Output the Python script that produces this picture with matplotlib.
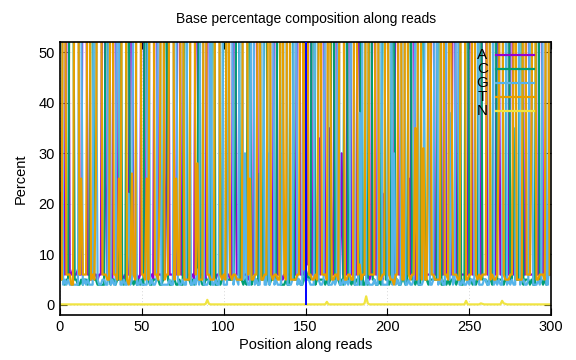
import matplotlib
matplotlib.use("Agg")
import matplotlib.pyplot as plt
import numpy as np

# base composition (%) per read cycle, 0..299
a_pct = [
    22, 6, 7, 6, 85, 84, 6, 6, 7, 6,
    6, 7, 6, 6, 86, 84, 85, 6, 6, 5,
    6, 6, 6, 5, 6, 6, 85, 85, 24, 6,
    6, 6, 5, 85, 86, 6, 5, 6, 6, 5,
    6, 6, 6, 85, 63, 6, 6, 6, 5, 6,
    85, 86, 6, 6, 6, 6, 6, 5, 85, 84,
    6, 6, 6, 5, 6, 26, 85, 6, 6, 6,
    6, 6, 85, 85, 6, 6, 6, 5, 6, 6,
    6, 6, 5, 85, 60, 6, 6, 6, 6, 5,
    85, 84, 6, 6, 6, 5, 6, 6, 6, 6,
    6, 6, 6, 6, 5, 6, 85, 66, 6, 6,
    6, 6, 6, 6, 6, 5, 6, 6, 6, 85,
    84, 6, 6, 6, 6, 5, 6, 6, 6, 5,
    6, 85, 84, 6, 6, 6, 5, 6, 6, 6,
    6, 6, 6, 6, 6, 85, 84, 6, 6, 6,
    9, 8, 84, 85, 6, 6, 6, 6, 33, 6,
    85, 84, 6, 6, 6, 35, 6, 6, 85, 84,
    6, 6, 30, 6, 6, 6, 85, 84, 6, 6,
    6, 6, 85, 50, 6, 6, 6, 6, 6, 5,
    6, 85, 84, 6, 6, 6, 6, 5, 22, 6,
    6, 6, 6, 6, 6, 85, 84, 6, 6, 6,
    6, 6, 6, 25, 6, 85, 84, 5, 6, 6,
    6, 6, 6, 6, 6, 6, 6, 85, 84, 6,
    6, 6, 6, 6, 6, 85, 6, 6, 6, 6,
    85, 84, 6, 6, 6, 6, 6, 6, 6, 6,
    85, 84, 6, 6, 6, 6, 6, 6, 85, 84,
    84, 6, 6, 6, 6, 6, 6, 85, 54, 6,
    6, 6, 6, 6, 6, 85, 84, 6, 6, 6,
    6, 6, 6, 6, 6, 85, 84, 6, 6, 6,
    6, 6, 6, 85, 84, 6, 6, 6, 6, 6,
]
c_pct = [
    6, 5, 5, 4, 5, 5, 84, 86, 85, 5,
    5, 4, 4, 5, 4, 5, 5, 4, 5, 86,
    84, 5, 5, 4, 4, 4, 4, 4, 66, 85,
    5, 4, 5, 5, 4, 5, 5, 85, 5, 4,
    5, 85, 68, 5, 5, 4, 5, 4, 5, 4,
    5, 4, 85, 65, 5, 4, 4, 5, 5, 5,
    5, 4, 4, 5, 85, 64, 5, 4, 4, 5,
    5, 4, 4, 5, 4, 4, 85, 86, 5, 5,
    4, 5, 4, 5, 5, 85, 5, 4, 4, 5,
    5, 5, 4, 85, 85, 4, 4, 5, 4, 5,
    84, 85, 5, 5, 5, 5, 5, 22, 84, 85,
    5, 5, 4, 5, 4, 85, 65, 4, 5, 5,
    5, 4, 26, 5, 5, 85, 84, 5, 4, 5,
    5, 5, 5, 85, 85, 4, 4, 4, 5, 4,
    4, 85, 84, 5, 5, 5, 5, 4, 4, 5,
    7, 6, 5, 5, 85, 85, 4, 5, 5, 5,
    5, 5, 4, 5, 4, 5, 85, 84, 5, 5,
    5, 4, 5, 4, 85, 84, 5, 5, 4, 5,
    4, 5, 5, 4, 85, 4, 4, 5, 4, 85,
    84, 5, 5, 4, 4, 5, 4, 85, 68, 5,
    5, 4, 5, 85, 60, 5, 5, 4, 4, 5,
    5, 4, 5, 64, 85, 5, 5, 4, 5, 4,
    4, 85, 58, 5, 5, 4, 5, 5, 5, 5,
    5, 85, 84, 4, 4, 5, 4, 5, 4, 5,
    5, 5, 4, 5, 85, 4, 4, 5, 85, 84,
    5, 5, 4, 5, 4, 5, 84, 85, 5, 5,
    5, 4, 5, 5, 4, 85, 84, 5, 5, 5,
    5, 4, 5, 85, 84, 5, 5, 35, 5, 5,
    5, 85, 84, 4, 5, 5, 5, 4, 5, 4,
    4, 85, 84, 5, 5, 4, 5, 4, 5, 10,
]
g_pct = [
    50, 84, 4, 5, 4, 5, 4, 4, 4, 4,
    4, 4, 84, 64, 4, 5, 4, 5, 4, 4,
    4, 84, 63, 5, 4, 4, 5, 5, 4, 4,
    84, 4, 5, 4, 4, 84, 65, 4, 4, 5,
    4, 4, 22, 4, 5, 84, 84, 4, 4, 5,
    4, 4, 4, 4, 84, 4, 5, 4, 4, 5,
    84, 65, 4, 4, 4, 4, 4, 5, 4, 4,
    84, 65, 5, 4, 4, 5, 4, 4, 84, 84,
    4, 4, 5, 4, 7, 4, 84, 85, 4, 4,
    4, 5, 85, 4, 4, 5, 4, 4, 84, 84,
    4, 4, 4, 28, 84, 84, 4, 6, 5, 4,
    84, 84, 5, 30, 5, 4, 4, 85, 84, 4,
    5, 4, 4, 84, 84, 4, 4, 30, 4, 84,
    84, 4, 5, 4, 4, 4, 27, 84, 84, 4,
    4, 4, 5, 84, 84, 4, 5, 4, 4, 82,
    5, 5, 5, 4, 4, 4, 84, 84, 5, 4,
    4, 5, 84, 84, 4, 4, 4, 5, 4, 5,
    84, 4, 4, 5, 4, 5, 4, 5, 85, 84,
    4, 4, 4, 38, 4, 84, 84, 4, 5, 4,
    4, 4, 5, 4, 4, 84, 85, 4, 4, 4,
    4, 84, 84, 4, 30, 4, 5, 4, 4, 84,
    84, 4, 4, 5, 4, 4, 5, 56, 84, 4,
    4, 4, 5, 84, 84, 36, 4, 4, 5, 84,
    84, 4, 5, 5, 4, 4, 84, 84, 5, 38,
    4, 5, 84, 84, 4, 4, 5, 4, 4, 5,
    4, 5, 5, 4, 84, 84, 4, 4, 4, 5,
    5, 4, 4, 84, 84, 4, 5, 4, 5, 4,
    4, 84, 84, 4, 5, 4, 5, 4, 4, 84,
    84, 4, 5, 5, 4, 4, 5, 84, 52, 4,
    4, 4, 5, 4, 5, 84, 84, 4, 4, 78,
]
t_pct = [
    22, 5, 84, 85, 6, 6, 6, 4, 4, 85,
    85, 85, 6, 25, 6, 6, 6, 85, 85, 5,
    6, 5, 26, 86, 86, 86, 6, 6, 6, 5,
    5, 86, 85, 6, 6, 5, 25, 5, 85, 86,
    85, 5, 4, 6, 26, 6, 5, 86, 86, 85,
    6, 6, 5, 25, 5, 86, 85, 86, 6, 6,
    5, 25, 86, 86, 5, 6, 6, 85, 86, 85,
    5, 25, 6, 6, 86, 85, 5, 5, 5, 5,
    86, 85, 86, 6, 28, 5, 5, 5, 86, 86,
    6, 6, 5, 5, 5, 86, 86, 85, 6, 5,
    6, 5, 85, 61, 6, 5, 6, 6, 5, 5,
    5, 5, 85, 59, 85, 6, 25, 5, 5, 6,
    6, 86, 64, 5, 5, 6, 6, 59, 86, 6,
    5, 6, 6, 5, 5, 86, 64, 6, 5, 86,
    86, 5, 5, 5, 5, 6, 6, 86, 86, 7,
    79, 81, 6, 6, 5, 5, 6, 5, 57, 85,
    6, 6, 6, 5, 86, 56, 5, 5, 6, 6,
    5, 86, 61, 85, 5, 5, 6, 6, 5, 5,
    86, 85, 6, 8, 5, 6, 6, 83, 85, 6,
    6, 6, 6, 86, 86, 5, 5, 6, 6, 85,
    85, 6, 5, 5, 4, 6, 6, 86, 86, 5,
    5, 86, 85, 6, 5, 6, 6, 35, 5, 86,
    86, 5, 31, 5, 5, 54, 85, 6, 6, 5,
    5, 5, 5, 85, 86, 6, 6, 5, 85, 51,
    6, 6, 6, 5, 5, 86, 85, 85, 5, 5,
    6, 6, 85, 85, 6, 5, 6, 5, 6, 6,
    6, 86, 85, 5, 6, 5, 5, 6, 36, 85,
    85, 6, 5, 5, 5, 6, 6, 55, 85, 5,
    5, 5, 5, 85, 85, 6, 6, 6, 37, 86,
    86, 5, 5, 6, 6, 6, 5, 86, 85, 6,
]
n_pct = [
    0.1, 0.1, 0.1, 0.1, 0.1, 0.1, 0.1, 0.1, 0.1, 0.1,
    0.1, 0.1, 0.1, 0.1, 0.1, 0.1, 0.1, 0.1, 0.1, 0.1,
    0.1, 0.1, 0.1, 0.1, 0.1, 0.1, 0.1, 0.1, 0.1, 0.1,
    0.1, 0.1, 0.1, 0.1, 0.1, 0.1, 0.1, 0.1, 0.1, 0.1,
    0.1, 0.1, 0.1, 0.1, 0.1, 0.1, 0.1, 0.1, 0.1, 0.1,
    0.1, 0.1, 0.1, 0.1, 0.1, 0.1, 0.1, 0.1, 0.1, 0.1,
    0.1, 0.1, 0.1, 0.1, 0.1, 0.1, 0.1, 0.1, 0.1, 0.1,
    0.1, 0.1, 0.1, 0.1, 0.1, 0.1, 0.1, 0.1, 0.1, 0.1,
    0.1, 0.1, 0.1, 0.1, 0.1, 0.1, 0.1, 0.1, 0.1, 0.2,
    1.0, 0.2, 0.1, 0.1, 0.1, 0.1, 0.1, 0.1, 0.1, 0.1,
    0.1, 0.1, 0.1, 0.1, 0.1, 0.1, 0.1, 0.1, 0.1, 0.1,
    0.1, 0.1, 0.1, 0.1, 0.1, 0.1, 0.1, 0.1, 0.1, 0.1,
    0.1, 0.1, 0.1, 0.1, 0.1, 0.1, 0.1, 0.1, 0.1, 0.1,
    0.1, 0.1, 0.1, 0.1, 0.1, 0.1, 0.1, 0.1, 0.1, 0.1,
    0.1, 0.1, 0.1, 0.1, 0.1, 0.1, 0.1, 0.1, 0.1, 0.1,
    0.1, 0.1, 0.1, 0.1, 0.1, 0.1, 0.1, 0.1, 0.1, 0.1,
    0.1, 0.1, 0.1, 0.6, 0.1, 0.1, 0.1, 0.1, 0.1, 0.1,
    0.1, 0.1, 0.1, 0.1, 0.1, 0.1, 0.1, 0.1, 0.1, 0.1,
    0.1, 0.1, 0.1, 0.1, 0.1, 0.1, 0.3, 1.7, 0.3, 0.1,
    0.1, 0.1, 0.1, 0.1, 0.1, 0.1, 0.1, 0.1, 0.1, 0.1,
    0.1, 0.1, 0.1, 0.1, 0.1, 0.1, 0.1, 0.1, 0.1, 0.1,
    0.1, 0.1, 0.1, 0.1, 0.1, 0.1, 0.1, 0.1, 0.1, 0.1,
    0.1, 0.1, 0.1, 0.1, 0.1, 0.1, 0.1, 0.1, 0.1, 0.1,
    0.1, 0.1, 0.1, 0.1, 0.1, 0.1, 0.1, 0.1, 0.1, 0.1,
    0.1, 0.1, 0.1, 0.1, 0.1, 0.1, 0.1, 0.1, 0.8, 0.1,
    0.1, 0.1, 0.1, 0.1, 0.1, 0.1, 0.1, 0.3, 0.2, 0.1,
    0.1, 0.1, 0.1, 0.1, 0.1, 0.1, 0.1, 0.1, 0.1, 0.1,
    0.8, 0.3, 0.2, 0.1, 0.1, 0.1, 0.1, 0.1, 0.1, 0.1,
    0.1, 0.1, 0.1, 0.1, 0.1, 0.1, 0.1, 0.1, 0.1, 0.1,
    0.1, 0.1, 0.1, 0.1, 0.1, 0.1, 0.1, 0.1, 0.1, 0.1,
]
read_split = 150  # boundary between read 1 and read 2 cycles

labels = ["A", "C", "G", "T", "N"]
colors = ["#9400d3", "#009e73", "#56b4e9", "#e69f00", "#f0e442"]
series = [a_pct, c_pct, g_pct, t_pct, n_pct]

plt.rcParams["font.family"] = ["Liberation Sans", "DejaVu Sans"]

fig = plt.figure(figsize=(5.76, 3.6), dpi=100)
ax = fig.add_axes([0.104, 0.125, 0.853, 0.758])

cycles = np.arange(len(a_pct))
for vals, col in zip(series, colors):
    ax.plot(cycles, vals, color=col, lw=1.6, zorder=2)

ax.vlines(read_split, 0, 100, color="#0000ff", lw=1.4, zorder=3)

ax.set_xlim(0, 300)
ax.set_ylim(-2, 52)
ax.set_xticks(range(0, 301, 50))
ax.set_yticks(range(0, 51, 10))
ax.grid(True, color="#c8c8c8", ls=(0, (1, 3)), lw=0.6, zorder=0)
ax.tick_params(direction="in", top=True, right=True, length=5, labelsize=10.5)
for s in ax.spines.values():
    s.set_linewidth(1.2)

ax.set_title("Base percentage composition along reads", fontsize=10, pad=14)
ax.set_xlabel("Position along reads", fontsize=10.5, labelpad=3)
ax.set_ylabel("Percent", fontsize=10.5, labelpad=8)

# key, top right inside the plot
key_y = [0.952, 0.901, 0.850, 0.799, 0.747]
for lab, col, yy in zip(labels, colors, key_y):
    ax.plot([0.888, 0.965], [yy, yy], color=col, lw=1.6, transform=ax.transAxes, zorder=4)
    ax.text(0.860, yy, lab, ha="center", va="center", fontsize=11,
            transform=ax.transAxes, zorder=4)

fig.savefig("out.png", dpi=100)
